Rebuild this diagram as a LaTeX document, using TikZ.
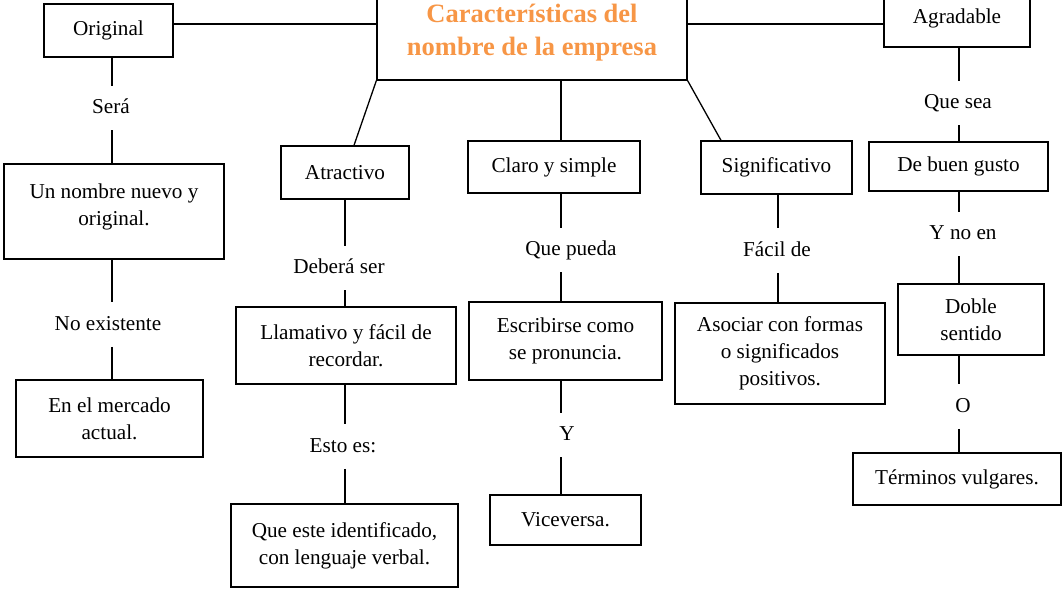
\documentclass[tikz,border=0pt]{standalone}
\usepackage{fontspec}
\setmainfont{Liberation Serif}
\definecolor{naranja}{HTML}{F79646}
\tikzset{
  caja/.style 2 args = {% box, size given in pixels of the sketch
    draw, line width=0.65pt, inner sep=0pt, align=center,
    minimum width=#1*0.5pt, minimum height=#2*0.5pt,
  },
  enlace/.style = {% words written on a connector
    inner xsep=2pt, inner ysep=5.75pt, text height=8pt, text depth=2.5pt,
  },
  linea/.style = {line width=0.65pt},
}

\begin{document}
\begin{tikzpicture}[x=0.5pt, y=-0.5pt, font=\fontsize{10.6}{13.5}\selectfont]
  \useasboundingbox (0,0) rectangle (1062,589);
  % main box
  \node[caja={310}{94}, text=naranja,
        font=\fontsize{13.25}{16.5}\selectfont\bfseries] (titulo) at (532,33)
        {Características del\\nombre de la empresa};
  % boxes
  \node[caja={129}{53}]  (orig)   at (108.5,30.5) {Original};
  \node[caja={146}{58}]  (agrad)  at (957,18)     {Agradable};
  \node[caja={220}{95}]  (nuevo)  at (114,211.5)  {Un nombre nuevo y\\original.\\[-6.5pt]\mbox{}};
  \node[caja={187}{77}]  (merc)   at (109.5,418.5){En el mercado\\actual.};
  \node[caja={128}{53}]  (atract) at (345,172.5)  {Atractivo};
  \node[caja={220}{77}]  (llam)   at (346,345.5)  {Llamativo y fácil de\\recordar.};
  \node[caja={227}{83}]  (quees)  at (344.5,545.5){Que este identificado,\\con lenguaje verbal.};
  \node[caja={172}{52}]  (claro)  at (554,167)    {Claro y simple};
  \node[caja={193}{78}]  (escrib) at (565.5,341)  {Escribirse como\\se pronuncia.};
  \node[caja={151}{50}]  (vice)   at (565.5,520)  {Viceversa.};
  \node[caja={151}{53}]  (signif) at (776.5,167.5){Significativo};
  \node[caja={210}{101}] (asoc)   at (780,353.5)  {Asociar con formas\\o significados\\positivos.};
  \node[caja={179}{49}]  (gusto)  at (958.5,166.5){De buen gusto};
  \node[caja={146}{71}]  (doble)  at (971,319.5)  {Doble\\sentido};
  \node[caja={208}{52}]  (termin) at (957,479)    {Términos vulgares.};
  % words on the connectors
  \node[enlace] (sera)   at (111,108)   {Será};
  \node[enlace] (noex)   at (108,324.5) {No existente};
  \node[enlace] (debe)   at (339,268)   {Deberá ser};
  \node[enlace] (esto)   at (343,446.5) {Esto es:};
  \node[enlace] (pueda)  at (571,250)   {Que pueda};
  \node[enlace] (yy)     at (567,435)   {Y};
  \node[enlace] (facil)  at (777,250.5) {Fácil de};
  \node[enlace] (quesea) at (958,103)   {Que sea};
  \node[enlace] (ynoen)  at (963,234)   {Y no en};
  \node[enlace] (oo)     at (963,406.5) {O};
  % x of each vertical line
  \coordinate (colA) at (112,0);
  \coordinate (colB) at (345,0);
  \coordinate (colC) at (561,0);
  \coordinate (colD) at (778,0);
  \coordinate (colE) at (959,0);
  \coordinate (tw) at (titulo.west |- 0,24);
  \coordinate (te) at (titulo.east |- 0,24);
  % connectors from the main box
  \draw[linea] (orig.east |- tw) -- (tw);
  \draw[linea] (te) -- (agrad.west |- te);
  \draw[linea] (titulo.south west) -- ([xshift=4.5pt]atract.north);
  \draw[linea] (titulo.south -| colC) -- (claro.north -| colC);
  \draw[linea] (titulo.south east) -- ([xshift=-27.75pt]signif.north);
  % the columns
  \foreach \a/\b in {orig/sera, sera/nuevo, nuevo/noex, noex/merc}
    \draw[linea] (\a.south -| colA) -- (\b.north -| colA);
  \foreach \a/\b in {atract/debe, debe/llam, llam/esto, esto/quees}
    \draw[linea] (\a.south -| colB) -- (\b.north -| colB);
  \foreach \a/\b in {claro/pueda, pueda/escrib, escrib/yy, yy/vice}
    \draw[linea] (\a.south -| colC) -- (\b.north -| colC);
  \foreach \a/\b in {signif/facil, facil/asoc}
    \draw[linea] (\a.south -| colD) -- (\b.north -| colD);
  \foreach \a/\b in {agrad/quesea, quesea/gusto, gusto/ynoen, ynoen/doble, doble/oo, oo/termin}
    \draw[linea] (\a.south -| colE) -- (\b.north -| colE);
\end{tikzpicture}
\end{document}
